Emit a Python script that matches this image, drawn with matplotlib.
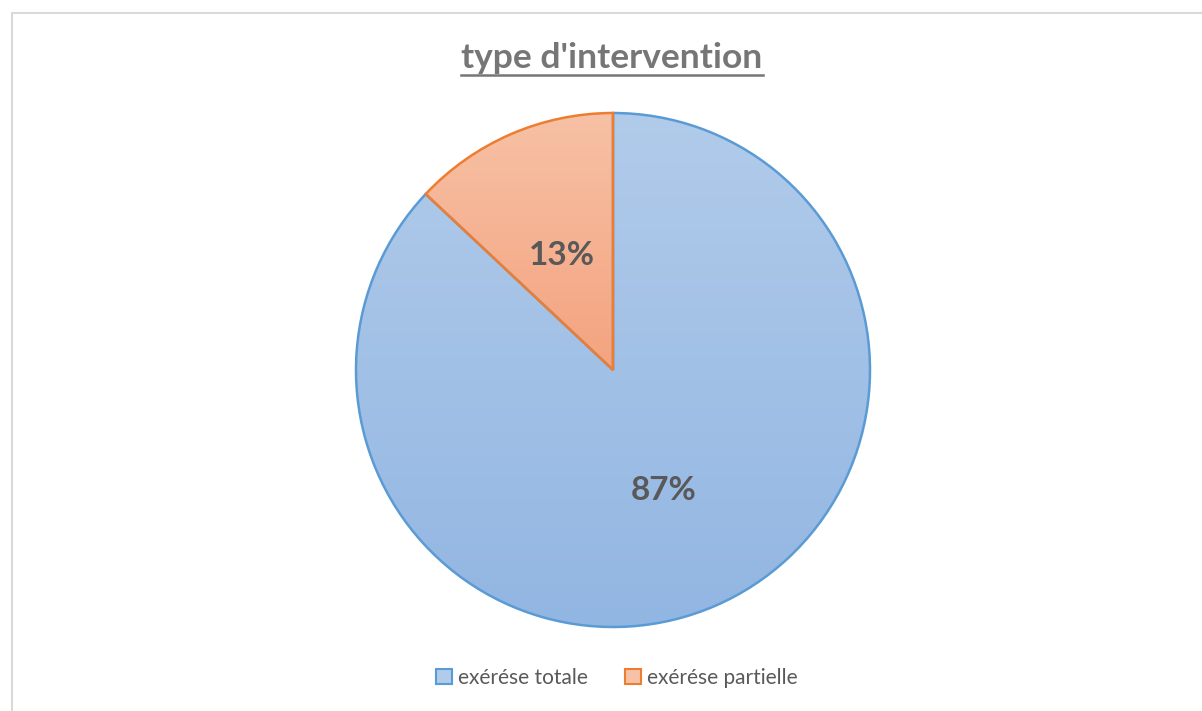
import numpy as np
import matplotlib.pyplot as plt
from matplotlib.patches import Patch, Rectangle
from matplotlib.colors import LinearSegmentedColormap
from matplotlib.lines import Line2D

plt.rcParams["font.family"] = ["Lato", "DejaVu Sans"]

# type d'intervention
labels = ["exérése totale", "exérése partielle"]
shares = [87, 13]

edge_colors = ["#5B9BD5", "#ED7D31"]
grad_top = ["#B1CBEA", "#F7C1A5"]
grad_bottom = ["#92B6E2", "#F4A37F"]
text_grey = "#595959"

W, H = 1202, 711
fig = plt.figure(figsize=(W / 100, H / 100), dpi=100)
ax = fig.add_axes([0, 0, 1, 1])

cx, cy, r = 613, H - 370, 257
wedges, _, pct_texts = ax.pie(
    shares, center=(cx, cy), radius=r, startangle=90, counterclock=False,
    autopct="%d%%", pctdistance=0.5,
    wedgeprops=dict(linewidth=1.8),
    textprops=dict(color=text_grey, fontsize=24, fontweight="bold"),
)

ax.set_xlim(0, W)
ax.set_ylim(0, H)
ax.set_aspect("equal")
ax.axis("off")

# vertical gradient fill clipped to each slice
fig.canvas.draw()
for w, ec, top, bot in zip(wedges, edge_colors, grad_top, grad_bottom):
    w.set_facecolor("none")
    w.set_edgecolor(ec)
    w.set_zorder(3)
    bb = w.get_path().get_extents(w.get_transform())
    inv = ax.transData.inverted()
    (x0, y0), (x1, y1) = inv.transform([[bb.x0, bb.y0], [bb.x1, bb.y1]])
    cmap = LinearSegmentedColormap.from_list("g", [bot, top])
    grad = np.linspace(0, 1, 256).reshape(-1, 1)
    im = ax.imshow(grad, cmap=cmap, extent=[x0, x1, y0, y1], origin="lower",
                   aspect="auto", zorder=2, interpolation="bilinear")
    im.set_clip_path(w)
ax.set_xlim(0, W)
ax.set_ylim(0, H)

for t in pct_texts:
    t.set_zorder(4)
    x, y = t.get_position()
    t.set_position((x, y - 3))

# chart frame
ax.add_patch(Rectangle((11.5, -20), W + 20, H - 12.5 + 20, fill=False,
                       edgecolor="#D9D9D9", linewidth=1.5, zorder=1))

title = fig.text(612 / W, 1 - 58 / H, "type d'intervention", ha="center",
                 va="center", fontsize=25.5, fontweight="bold", color="#767676")
fig.canvas.draw()
tb = title.get_window_extent()
uy = (tb.y0 - 1) / H
fig.add_artist(Line2D([tb.x0 / W, tb.x1 / W], [uy, uy], color="#767676",
                      linewidth=1.8, transform=fig.transFigure))

handles = [Patch(facecolor=g, edgecolor=e, linewidth=1.5, label=l)
           for g, e, l in zip(grad_top, edge_colors, labels)]
fig.legend(handles=handles, loc="center", bbox_to_anchor=(617 / W, 1 - 678 / H),
           ncol=2, frameon=False, fontsize=15, handlelength=0.75,
           handleheight=0.75, handletextpad=0.3, columnspacing=1.8,
           labelcolor=text_grey)

fig.savefig("out.png", dpi=100, facecolor="white")
